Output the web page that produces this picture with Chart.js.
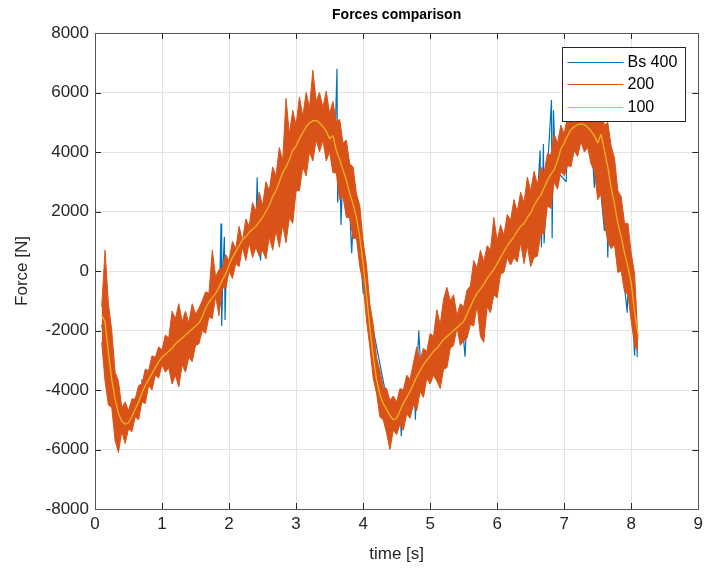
<!DOCTYPE html>
<html>
<head>
<meta charset="utf-8">
<title>Forces comparison</title>
<script src="https://cdn.jsdelivr.net/npm/chart.js@4.4.1/dist/chart.umd.min.js"></script>
<style>
  html, body { margin: 0; padding: 0; background: #fff; }
  #wrap { width: 708px; height: 571px; }
</style>
</head>
<body>
<div id="wrap"><canvas id="forces" width="708" height="571"></canvas></div>
<script>
// values (time in s, force in N)

// sample clock shared by the "200" band and the "100" curve
const sampleTimes = [
  0.10, 0.15, 0.20, 0.25, 0.30, 0.35, 0.40, 0.45, 0.50, 0.55,
  0.60, 0.65, 0.70, 0.75, 0.80, 0.85, 0.90, 0.95, 1.00, 1.05,
  1.10, 1.15, 1.20, 1.25, 1.30, 1.35, 1.40, 1.45, 1.50, 1.55,
  1.60, 1.65, 1.70, 1.75, 1.80, 1.85, 1.90, 1.95, 2.00, 2.05,
  2.10, 2.15, 2.20, 2.25, 2.30, 2.35, 2.40, 2.45, 2.50, 2.55,
  2.60, 2.65, 2.70, 2.75, 2.80, 2.85, 2.90, 2.95, 3.00, 3.05,
  3.10, 3.15, 3.20, 3.25, 3.30, 3.35, 3.40, 3.45, 3.50, 3.55,
  3.60, 3.65, 3.70, 3.75, 3.80, 3.85, 3.90, 3.95, 4.00, 4.05,
  4.10, 4.15, 4.20, 4.25, 4.30, 4.35, 4.40, 4.45, 4.50, 4.55,
  4.60, 4.65, 4.70, 4.75, 4.80, 4.85, 4.90, 4.95, 5.00, 5.05,
  5.10, 5.15, 5.20, 5.25, 5.30, 5.35, 5.40, 5.45, 5.50, 5.55,
  5.60, 5.65, 5.70, 5.75, 5.80, 5.85, 5.90, 5.95, 6.00, 6.05,
  6.10, 6.15, 6.20, 6.25, 6.30, 6.35, 6.40, 6.45, 6.50, 6.55,
  6.60, 6.65, 6.70, 6.75, 6.80, 6.85, 6.90, 6.95, 7.00, 7.05,
  7.10, 7.15, 7.20, 7.25, 7.30, 7.35, 7.40, 7.45, 7.50, 7.55,
  7.60, 7.65, 7.70, 7.75, 7.80, 7.85, 7.90, 7.95, 8.00, 8.05,
  8.10
];

// "200" is very noisy: kept as its upper and lower envelope
const force200Upper = [
  -1200, 700, -1100, -2000, -3400, -3700, -4600, -4400, -4700, -4300,
  -4300, -3850, -3800, -3300, -3350, -2850, -2900, -2550, -2650, -2150,
  -2250, -1350, -1600, -1100, -1700, -1350, -1750, -1100, -1450, -1250,
  -1000, -700, -750, 700, -200, 50, 100, 550, 350, 1000,
  750, 1500, 1000, 1750, 1500, 2300, 2000, 2650, 2200, 3000,
  2700, 3500, 3200, 4150, 3700, 5800, 4600, 5400, 4900, 5850,
  5200, 6000, 5500, 6750, 5700, 6000, 5500, 6050, 5300, 5700,
  5000, 5100, 4300, 4400, 3600, 3500, 2600, 2200, 1000, 200,
  -1100, -1800, -2900, -3350, -3900, -3950, -4350, -4200, -4400, -3950,
  -4000, -3500, -3650, -3100, -2550, -3000, -2600, -2700, -2100, -2200,
  -1300, -1800, -950, -550, -1000, -800, -1500, -1100, -1200, -650,
  -500, 350, 100, 700, 300, 850, 700, 1800, 1000, 1550,
  1200, 1900, 1700, 2400, 2000, 2650, 2300, 3150, 2700, 3350,
  2900, 3500, 3300, 3950, 3900, 4600, 4300, 4900, 4600, 5200,
  5000, 5600, 5300, 5800, 5500, 5700, 5400, 5600, 5300, 5400,
  4900, 5000, 4200, 3800, 2700, 2500, 1600, 1600, 600, -100,
  -2300
];

const force200Lower = [
  -2400, -3700, -4500, -4600, -5700, -6100, -5400, -5800, -5300, -5400,
  -4900, -5000, -4400, -4450, -3850, -4000, -3500, -3600, -3150, -3400,
  -3250, -3800, -3500, -3900, -3150, -3400, -2900, -3050, -2500, -2450,
  -2000, -2100, -1550, -1600, -850, -1500, -550, -600, 0, -250,
  250, 150, 800, 350, 950, 450, 800, 500, 700, 400,
  1150, 700, 1350, 800, 1550, 950, 1800, 1600, 2700, 2700,
  3500, 3200, 4000, 3700, 4400, 4000, 4400, 3700, 4000, 3300,
  3300, 2400, 2500, 1800, 1800, 1100, 1100, 150, -400, -1650,
  -2550, -3600, -4100, -4900, -5000, -5450, -6000, -5350, -5500, -5150,
  -5350, -4800, -4950, -4500, -4700, -4050, -4250, -3600, -3800, -3500,
  -3700, -3950, -3300, -3250, -2600, -2500, -1900, -2500, -2350, -2250,
  -1800, -1850, -1150, -2200, -2400, -1200, -1400, -800, -900, -100,
  -50, 450, 200, 450, 300, 950, 250, 850, 150, 450,
  500, 1250, 1250, 2200, 2100, 3000, 2750, 3350, 3200, 3550,
  3500, 4050, 3850, 4350, 4000, 4150, 3600, 3350, 2400, 2600,
  1600, 1000, 750, 900, -50, 0, -700, -800, -1700, -2500,
  -2700
];

const force100 = [
  -1500, -1700, -2750, -3650, -4300, -4800, -5050, -5150, -5100, -4900,
  -4650, -4400, -4100, -3850, -3650, -3450, -3250, -3050, -2900, -2800,
  -2700, -2600, -2450, -2350, -2250, -2150, -2050, -1950, -1850, -1750,
  -1550, -1250, -1050, -900, -750, -550, -300, -100, 200, 450,
  650, 850, 1050, 1150, 1300, 1400, 1500, 1650, 1800, 2000,
  2200, 2500, 2700, 3000, 3300, 3500, 3750, 4050, 4200, 4450,
  4650, 4850, 4980, 5050, 5060, 4980, 4850, 4700, 4450, 4550,
  4050, 3750, 3400, 3050, 2600, 2250, 1800, 1150, 250, -800,
  -1900, -2850, -3650, -4150, -4450, -4650, -4850, -5000, -4950, -4700,
  -4450, -4250, -4050, -3800, -3550, -3350, -3150, -3000, -2850, -2700,
  -2600, -2450, -2300, -2200, -2100, -2000, -1900, -1800, -1700, -1450,
  -1200, -950, -750, -600, -450, -250, -100, 50, 250, 450,
  650, 850, 1000, 1150, 1350, 1500, 1600, 1800, 1950, 2200,
  2400, 2550, 2800, 3050, 3250, 3400, 3700, 4100, 4300, 4550,
  4750, 4850, 4920, 4950, 4920, 4830, 4700, 4550, 4300, 4600,
  4050, 3500, 2800, 2250, 1600, 1150, 600, 150, -400, -1400,
  -2100
];

// "Bs 400" mostly hides under "200"; only its spikes show
const bs400Times = [
  0.10, 0.30, 0.45, 0.52, 0.60, 0.69, 0.70, 0.71, 0.80, 1.00,
  1.40, 1.70, 1.80, 1.86, 1.88, 1.89, 1.91, 1.93, 1.94, 1.96,
  2.00, 2.40, 2.42, 2.44, 2.47, 2.50, 3.00, 3.40, 3.58, 3.61,
  3.62, 3.65, 3.67, 3.70, 3.73, 3.75, 3.78, 3.83, 3.86, 3.95,
  4.00, 4.05, 4.40, 4.55, 4.57, 4.60, 4.76, 4.78, 4.80, 4.83,
  4.86, 5.00, 5.34, 5.37, 5.40, 5.48, 5.52, 5.55, 6.00, 6.60,
  6.64, 6.66, 6.69, 6.70, 6.74, 6.81, 6.82, 6.84, 6.87, 7.03,
  7.05, 7.40, 7.45, 7.47, 7.60, 7.62, 7.65, 7.68, 7.80, 7.94,
  7.96, 8.00, 8.05, 8.07, 8.09
];
const bs400Force = [
  -1800, -4300, -5200, -5300, -4700, -4300, -3650, -4200, -3700, -2900,
  -2100, -1100, -800, -600, 1600, -1850, 200, 1150, -1650, 300,
  100, 1500, 3150, 900, 350, 1800, 4200, 4850, 4300, 6800,
  2300, 4000, 1550, 3500, 4300, 1900, 3000, 600, 2200, 1100,
  -750, -800, -4850, -4700, -5550, -4400, -3700, -5000, -3500, -2000,
  -3300, -2850, -2000, -1200, -1900, -1750, -2880, -1450, 250, 2400,
  4050, 800, 4270, 930, 3000, 5750, 1100, 5400, 3400, 3000,
  4500, 4700, 2800, 4500, 1350, 4000, 450, 3000, 1600, -1400,
  150, -400, -2850, -1500, -2900
];

const timeTicks = [0, 1, 2, 3, 4, 5, 6, 7, 8, 9];
const forceTicks = [-8000, -6000, -4000, -2000, 0, 2000, 4000, 6000, 8000];

const BLUE = "#0072BD";
const ORANGE = "#D95319";
const YELLOW = "#EDB120";
const AXIS = "#262626";
const FONT = "'Liberation Sans', Arial, Helvetica, sans-serif";

const pts = (xs, ys) => xs.map((x, i) => ({ x, y: ys[i] }));

// title, box, inward tick marks and legend, MATLAB style
const matlabAxes = {
  id: "matlabAxes",
  afterDatasetsDraw(chart) {
    const { ctx, chartArea: a, scales } = chart;
    const len = 6;
    ctx.save();
    ctx.strokeStyle = AXIS;
    ctx.lineWidth = 1;
    ctx.beginPath();
    scales.x.ticks.forEach((t) => {
      const px = Math.round(scales.x.getPixelForValue(t.value)) + 0.5;
      ctx.moveTo(px, a.bottom); ctx.lineTo(px, a.bottom - len);
      ctx.moveTo(px, a.top); ctx.lineTo(px, a.top + len);
    });
    scales.y.ticks.forEach((t) => {
      const py = Math.round(scales.y.getPixelForValue(t.value)) + 0.5;
      ctx.moveTo(a.left, py); ctx.lineTo(a.left + len, py);
      ctx.moveTo(a.right, py); ctx.lineTo(a.right - len, py);
    });
    ctx.stroke();
    ctx.strokeStyle = "#555";
    ctx.strokeRect(Math.round(a.left) + 0.5, Math.round(a.top) + 0.5,
      Math.round(a.right - a.left), Math.round(a.bottom - a.top));

    // title over the middle of the axes
    ctx.fillStyle = "#000";
    ctx.font = "bold 14px " + FONT;
    ctx.textAlign = "center";
    ctx.textBaseline = "middle";
    ctx.fillText(chart.options.plugins.title.text, (a.left + a.right) / 2, 15);

    // legend box
    const items = chart.data.datasets
      .filter((d) => d.legendRank)
      .sort((p, q) => p.legendRank - q.legendRank);
    const w = 123, h = 74;
    const lx = Math.round(a.right - 13 - w) + 0.5;
    const ly = Math.round(a.top + 14) + 0.5;
    ctx.fillStyle = "#fff";
    ctx.fillRect(lx, ly, w, h);
    ctx.strokeStyle = AXIS;
    ctx.strokeRect(lx, ly, w, h);
    ctx.font = "16px " + FONT;
    ctx.textAlign = "left";
    const rows = [15, 37, 60];
    items.forEach((d, i) => {
      const y = ly + rows[i];
      ctx.strokeStyle = d.borderColor;
      ctx.lineWidth = 1;
      ctx.beginPath();
      ctx.moveTo(lx + 5, y); ctx.lineTo(lx + 61, y);
      ctx.stroke();
      ctx.fillStyle = "#000";
      ctx.fillText(d.label, lx + 65, y + 0.5);
    });
    ctx.restore();
  }
};

Chart.defaults.font.family = FONT;
Chart.defaults.color = AXIS;

new Chart(document.getElementById("forces"), {
  type: "line",
  data: {
    datasets: [
      {
        label: "100",
        legendRank: 3,
        data: pts(sampleTimes, force100),
        borderColor: YELLOW,
        borderWidth: 1.3,
        order: 1
      },
      {
        label: "200",
        legendRank: 2,
        data: pts(sampleTimes, force200Upper),
        borderColor: ORANGE,
        backgroundColor: ORANGE,
        borderWidth: 1,
        fill: "+1",
        order: 2
      },
      {
        label: "200 lower",
        data: pts(sampleTimes, force200Lower),
        borderColor: ORANGE,
        borderWidth: 1,
        fill: false,
        order: 3
      },
      {
        label: "Bs 400",
        legendRank: 1,
        data: pts(bs400Times, bs400Force),
        borderColor: BLUE,
        borderWidth: 1.2,
        order: 4
      }
    ]
  },
  options: {
    responsive: false,
    animation: false,
    events: [],
    layout: { padding: { left: 0, right: 8, top: 33, bottom: 0 } },
    elements: {
      point: { radius: 0 },
      line: { tension: 0, borderJoinStyle: "bevel" }
    },
    plugins: {
      legend: { display: false },
      tooltip: { enabled: false },
      title: { display: false, text: "Forces comparison" }
    },
    scales: {
      x: {
        type: "linear",
        min: 0,
        max: 9,
        afterBuildTicks: (s) => { s.ticks = timeTicks.map((v) => ({ value: v })); },
        afterFit: (s) => { s.height = 62; },
        grid: { color: "#e3e3e3", drawTicks: false },
        border: { display: false },
        ticks: { font: { size: 17 }, padding: 5, maxRotation: 0, callback: (v) => String(v) },
        title: { display: true, text: "time [s]", font: { size: 17 }, padding: { top: 0, bottom: 6 } }
      },
      y: {
        type: "linear",
        min: -8000,
        max: 8000,
        afterBuildTicks: (s) => { s.ticks = forceTicks.map((v) => ({ value: v })); },
        afterFit: (s) => { s.width = 95; },
        grid: { color: "#e3e3e3", drawTicks: false },
        border: { display: false },
        ticks: { font: { size: 17 }, padding: 6, callback: (v) => String(v) },
        title: { display: true, text: "Force [N]", font: { size: 17 }, padding: { top: 12, bottom: 0 } }
      }
    }
  },
  plugins: [matlabAxes]
});
</script>
</body>
</html>
